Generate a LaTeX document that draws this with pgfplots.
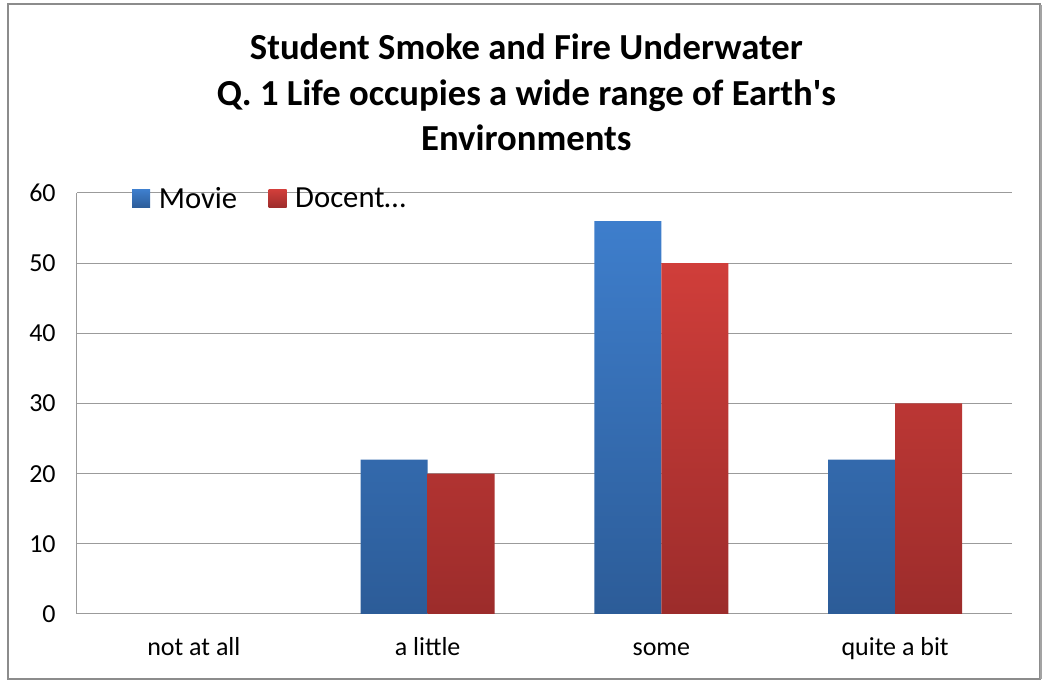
\documentclass[border=0pt]{standalone}
\usepackage{pgfplots}
\pgfplotsset{compat=1.18}
\usepackage{fontspec}
\setmainfont{Carlito}

\definecolor{gridgray}{RGB}{155,155,155}
\definecolor{framegray}{RGB}{140,140,140}
\definecolor{movietop}{RGB}{62,126,204}
\definecolor{moviebot}{RGB}{44,92,152}
\definecolor{docenttop}{RGB}{208,62,58}
\definecolor{docentbot}{RGB}{156,44,43}

\begin{document}
\begin{tikzpicture}
% page area and chart frame (1px = 0.75pt, origin at the plot's lower-left corner)
\useasboundingbox (-57.75pt,-49.5pt) rectangle (726pt,460.5pt);
\draw[framegray, line width=0.9pt] (-51.75pt,-48.75pt) rectangle (722.25pt,457.5pt);
\draw[framegray!80, line width=1.2pt] (723.2pt,-48.5pt) -- (723.2pt,457pt);

\tikzset{charttitle/.style={font=\fontsize{27.5}{31}\selectfont\bfseries, anchor=base}}
\node[charttitle] at (337pt,415.75pt) {Student Smoke and Fire Underwater};
\node[charttitle] at (337pt,381.5pt) {Q. 1 Life occupies a wide range of Earth\textquotesingle s};
\node[charttitle] at (337pt,347.25pt) {Environments};

\begin{axis}[
  at={(0pt,0pt)}, anchor=south west,
  scale only axis,
  width=701.25pt, height=315.75pt,
  xmin=-0.5, xmax=3.5,
  ymin=0, ymax=60,
  xtick={0,1,2,3},
  xticklabels={not at all, a little, some, quite a bit},
  ytick={0,10,...,60},
  ymajorgrids,
  grid style={gridgray, line width=0.75pt},
  axis x line*=bottom,
  axis y line*=left,
  axis line style={gridgray, line width=0.75pt, -},
  major tick length=0pt,
  /pgf/number format/assume math mode=true,
  tick label style={font=\fontsize{19.5}{23}\selectfont, text=black},
  xticklabel style={anchor=base, yshift=-31.5pt},
  yticklabel style={xshift=-12.5pt},
  ybar,
  bar width=0.2866,
  legend style={
    at={(rel axis cs:0.059,0.986)}, anchor=west,
    draw=none, fill=none,
    legend columns=2,
    inner sep=0pt, outer sep=0pt,
    font=\fontsize{23}{26}\selectfont,
    nodes={inner sep=6.5pt},
    /tikz/every even column/.append style={column sep=17pt},
  },
  legend image code/.code={\path[#1, draw=none] (0pt,-6.75pt) rectangle (13.5pt,6.75pt);},
]
\addplot[bar shift=-0.1433, draw=none, top color=movietop, bottom color=moviebot]
  coordinates {(1,22) (2,56) (3,22)};
\addplot[bar shift=0.1433, draw=none, top color=docenttop, bottom color=docentbot]
  coordinates {(1,20) (2,50) (3,30)};
\legend{Movie, Docent…}
\end{axis}
\end{tikzpicture}
\end{document}
